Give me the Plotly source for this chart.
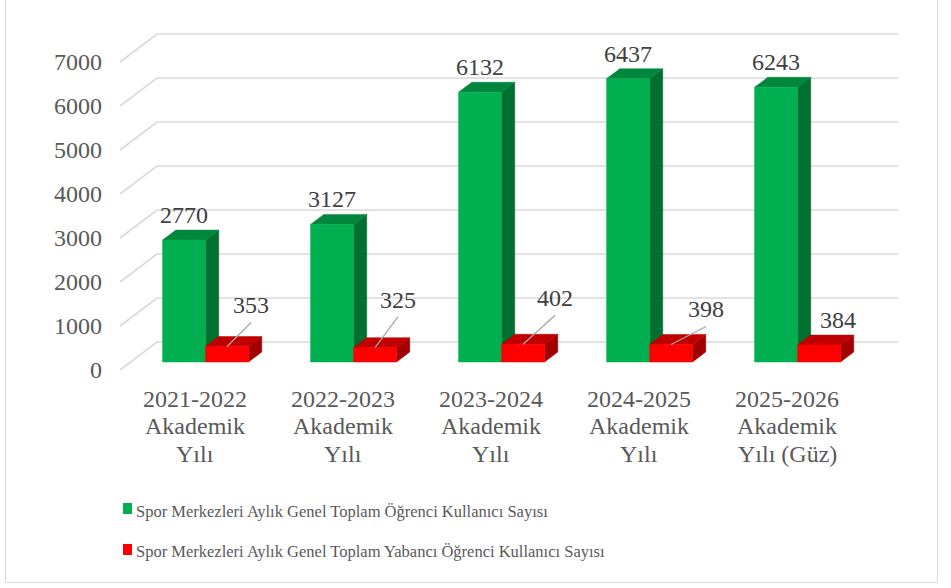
import plotly.graph_objects as go

# ---------------- data ----------------
category_lines = [
    ["2021-2022", "Akademik", "Yılı"],
    ["2022-2023", "Akademik", "Yılı"],
    ["2023-2024", "Akademik", "Yılı"],
    ["2024-2025", "Akademik", "Yılı"],
    ["2025-2026", "Akademik", "Yılı (Güz)"],
]
series_names = [
    "Spor Merkezleri Aylık Genel Toplam Öğrenci Kullanıcı Sayısı",
    "Spor Merkezleri Aylık Genel Toplam Yabancı Öğrenci Kullanıcı Sayısı",
]
total_students = [2770, 3127, 6132, 6437, 6243]
foreign_students = [353, 325, 402, 398, 384]
y_ticks = [0, 1000, 2000, 3000, 4000, 5000, 6000, 7000]

# ---------------- layout / style constants ----------------
W, H = 951, 588
PL, PR, PT, PB = 120, 898, 29, 381          # plot area in px
PX_PER_CAT = 148.0                           # px per category
PX_PER_UNIT = 0.044                          # px per value unit
FRONT_CENTER0 = 195                          # px of first category on front plane
ZERO_PX = 370                                # px of value 0 on front plane
XMIN = -(FRONT_CENTER0 - PL) / PX_PER_CAT
XMAX = XMIN + (PR - PL) / PX_PER_CAT
YMIN = -(PB - ZERO_PX) / PX_PER_UNIT
YMAX = YMIN + (PB - PT) / PX_PER_UNIT
SLANT = 1.32
D_BAR_FRONT, D_BAR_BACK, D_WALL = 8, 18, 28
BAR_W = 43 / PX_PER_CAT

FONT = "Liberation Serif, 'Times New Roman', Times, 'DejaVu Serif', serif"
TXT = "#595959"
GRID = "#D9D9D9"
GREEN = dict(front="#00B050", top="#00873D", side="#007030")
RED = dict(front="#FF0000", top="#C00000", side="#A20000")
red_label_offsets = [(24, -41, True), (23, -48, True), (32, -46, True), (35, -35, True), (19, -25, False)]


def dxy(d):
    return d * SLANT / PX_PER_CAT, d / PX_PER_UNIT


def py2paper(py):
    return (PB - py) / (PB - PT)


def px2paper(px):
    return (px - PL) / (PR - PL)


fig = go.Figure()

# ---- slanted gridlines (side wall + back wall) ----
wx, wy = dxy(D_WALL)
gx, gy = [], []
for t in y_ticks:
    gx += [XMIN, XMIN + wx, XMAX, None]
    gy += [t, t + wy, t + wy, None]
fig.add_trace(go.Scatter(x=gx, y=gy, mode="lines", line=dict(color=GRID, width=1.6),
                         hoverinfo="skip", showlegend=False))


def poly(pts, color):
    xs = [p[0] for p in pts] + [pts[0][0]]
    ys = [p[1] for p in pts] + [pts[0][1]]
    fig.add_trace(go.Scatter(x=xs, y=ys, mode="lines", fill="toself", fillcolor=color,
                             line=dict(color=color, width=0.5), hoverinfo="skip",
                             showlegend=False))


fx, fy = dxy(D_BAR_FRONT)
bx, by = dxy(D_BAR_BACK)
ddx, ddy = bx - fx, by - fy

annotations = []
leader_x, leader_y = [], []
for i, (g, r) in enumerate(zip(total_students, foreign_students)):
    cx = i + fx
    for v, x0, colors in ((g, cx - BAR_W, GREEN), (r, cx, RED)):
        x1 = x0 + BAR_W
        y0 = fy
        y1 = fy + v
        poly([(x1, y0), (x1 + ddx, y0 + ddy), (x1 + ddx, y1 + ddy), (x1, y1)], colors["side"])
        poly([(x0, y1), (x1, y1), (x1 + ddx, y1 + ddy), (x0 + ddx, y1 + ddy)], colors["top"])
        poly([(x0, y0), (x1, y0), (x1, y1), (x0, y1)], colors["front"])
    # green label
    annotations.append(dict(x=cx - BAR_W / 2, y=fy + g, xref="x", yref="y", text=str(g),
                            showarrow=False, yshift=25, yanchor="middle",
                            font=dict(family=FONT, size=24, color="#404040")))
    # red label + leader
    ox, oy, lead = red_label_offsets[i]
    rx, ry = cx + BAR_W / 2, fy + r
    annotations.append(dict(x=rx, y=ry, xref="x", yref="y", text=str(r), showarrow=False,
                            xshift=ox, yshift=-oy, yanchor="middle",
                            font=dict(family=FONT, size=24, color="#404040")))
    if lead:
        leader_x += [rx, rx + ox / PX_PER_CAT, None]
        leader_y += [ry, ry - (oy + 17) / PX_PER_UNIT, None]

fig.add_trace(go.Scatter(x=leader_x, y=leader_y, mode="lines",
                         line=dict(color="#A6A6A6", width=1.3), hoverinfo="skip",
                         showlegend=False))

# category labels (one annotation per line)
line_centers = [398.5, 426.2, 453.6]
for i, lines in enumerate(category_lines):
    for ln, txt in enumerate(lines):
        annotations.append(dict(x=i, y=py2paper(line_centers[ln]), xref="x", yref="paper",
                                text=txt, showarrow=False, yanchor="middle",
                                font=dict(family=FONT, size=24, color=TXT)))

# legend (manual)
shapes = []
legend_rows = [(511, 503, 514, GREEN["front"]), (551, 544, 555, RED["front"])]
for name, (cy, sy0, sy1, col) in zip(series_names, legend_rows):
    shapes.append(dict(type="rect", xref="paper", yref="paper",
                       x0=px2paper(123), x1=px2paper(132), y0=py2paper(sy1), y1=py2paper(sy0),
                       fillcolor=col, line=dict(width=0)))
    annotations.append(dict(x=px2paper(134), y=py2paper(cy), xref="paper", yref="paper",
                            text=name, showarrow=False, xanchor="left", yanchor="middle",
                            font=dict(family=FONT, size=16.5, color=TXT)))

# outer border
shapes.append(dict(type="rect", xref="paper", yref="paper",
                   x0=px2paper(5.5), x1=px2paper(937.5), y0=py2paper(582.5), y1=py2paper(-3),
                   line=dict(color="#D9D9D9", width=1), fillcolor="rgba(0,0,0,0)", layer="below"))

fig.update_layout(
    width=W, height=H,
    margin=dict(l=PL, r=W - PR, t=PT, b=H - PB, pad=0),
    paper_bgcolor="white", plot_bgcolor="white",
    showlegend=False,
    xaxis=dict(range=[XMIN, XMAX], showgrid=False, zeroline=False, showline=False,
               showticklabels=False, ticks="", fixedrange=True),
    yaxis=dict(range=[YMIN, YMAX], showgrid=False, zeroline=False, showline=False,
               tickvals=y_ticks, ticktext=[str(t) for t in y_ticks], ticks="",
               ticklabelstandoff=17,
               tickfont=dict(family=FONT, size=24, color=TXT), fixedrange=True),
    annotations=annotations,
    shapes=shapes,
)

fig.write_html("out.html", config={"displayModeBar": False},
               post_script="document.body.style.margin='0';")
